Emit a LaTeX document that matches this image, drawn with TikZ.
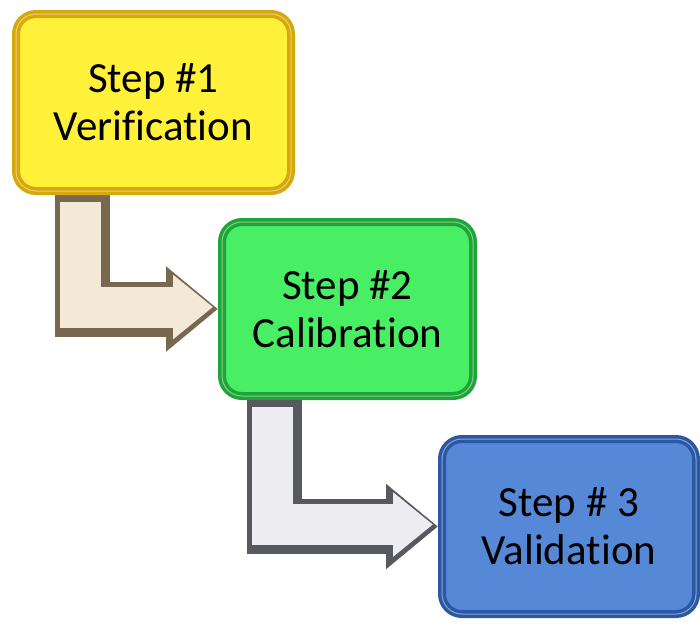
\documentclass[tikz,border=0pt]{standalone}
\usepackage{fontspec}
\setmainfont{Carlito}[Ligatures=NoCommon]
\usetikzlibrary{arrows.meta,calc,positioning,shadows}
\definecolor{verifyFace}{RGB}{255,240,58}
\definecolor{verifyRim}{RGB}{214,168,10}
\definecolor{calibFace}{RGB}{72,238,100}
\definecolor{calibRim}{RGB}{30,165,55}
\definecolor{validFace}{RGB}{86,136,216}
\definecolor{validRim}{RGB}{42,88,165}
\definecolor{beigeFace}{RGB}{243,233,214}
\definecolor{beigeDark}{RGB}{120,104,80}
\definecolor{silverFace}{RGB}{236,236,241}
\definecolor{silverDark}{RGB}{88,88,95}
\tikzset{stepbox/.style={draw, align=center, line width=8pt, rounded corners=20pt, font=\fontsize{43}{48}\selectfont, drop shadow={shadow xshift=3pt, shadow yshift=-3pt, opacity=.3}, postaction={draw=white, line width=1pt, opacity=.45}}}
\tikzset{arrowback/.style={line width=55pt, -{Triangle[width=82pt,length=52pt]}}}
\tikzset{arrowface/.style={line width=41pt, -{Triangle[width=62pt,length=40pt]}, shorten >=5pt, shorten <=7pt}}

\begin{document}
\begin{tikzpicture}[x=1pt, y=1pt]
	\pgfdeclarelayer{background}
	\pgfsetlayers{background,main}
	\path[use as bounding box] (0,0) rectangle (700,-627);

	% Nodes
	\node (step1) [stepbox, draw=verifyRim, fill=verifyFace, minimum width=275pt, minimum height=177pt] at (153.5,-102.5) {Step \#1\\Verification};
	\node (step2) [stepbox, draw=calibRim, fill=calibFace, minimum width=251pt, minimum height=174pt, below right=23pt and -77pt of step1] {Step \#2\\Calibration};
	\node (step3) [stepbox, draw=validRim, fill=validFace, minimum width=254pt, minimum height=175pt, below right=35pt and -39pt of step2] {Step \# 3\\Validation};

	% Connectors
	\begin{pgfonlayer}{background}
	\draw [arrowback, draw=beigeDark] ($(step1.south west)+(70.5,0)$) |- (step2.west);
	\draw [arrowface, draw=beigeFace] ($(step1.south west)+(68.5,0)$) |- ($(step2.west)+(0,2)$);
	\draw [arrowback, draw=silverDark] ($(step2.south west)+(56.5,0)$) |- (step3.west);
	\draw [arrowface, draw=silverFace] ($(step2.south west)+(54.5,0)$) |- ($(step3.west)+(0,2)$);
	\end{pgfonlayer}
\end{tikzpicture}
\end{document}
